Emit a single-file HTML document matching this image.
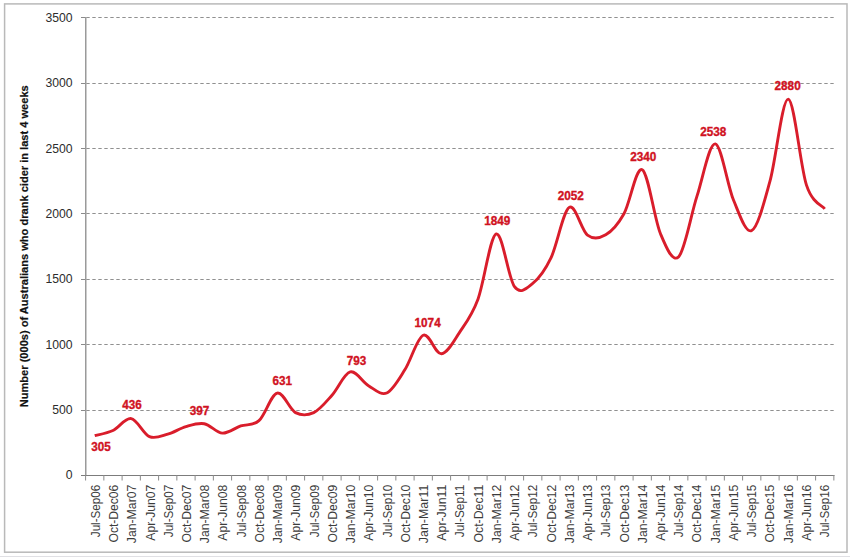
<!DOCTYPE html><html><head><meta charset="utf-8"><style>html,body{margin:0;padding:0;background:#fff;}svg{display:block;}text{font-family:"Liberation Sans", sans-serif;}</style></head><body>
<svg width="850" height="557" viewBox="0 0 850 557">
<rect x="0" y="0" width="850" height="557" fill="#fff"/>
<rect x="4.6" y="3.9" width="842.4" height="548.3" fill="none" stroke="#b9b9b9" stroke-width="1.5"/>
<line x1="0" y1="556.5" x2="850" y2="556.5" stroke="#e0e0e4" stroke-width="1.2"/>
<line x1="86" y1="410.5" x2="834" y2="410.5" stroke="#909090" stroke-width="1" stroke-dasharray="3.4,2.6" stroke-dashoffset="-0.3"/>
<line x1="86" y1="344.5" x2="834" y2="344.5" stroke="#909090" stroke-width="1" stroke-dasharray="3.4,2.6" stroke-dashoffset="-0.3"/>
<line x1="86" y1="279.5" x2="834" y2="279.5" stroke="#909090" stroke-width="1" stroke-dasharray="3.4,2.6" stroke-dashoffset="-0.3"/>
<line x1="86" y1="213.5" x2="834" y2="213.5" stroke="#909090" stroke-width="1" stroke-dasharray="3.4,2.6" stroke-dashoffset="-0.3"/>
<line x1="86" y1="148.5" x2="834" y2="148.5" stroke="#909090" stroke-width="1" stroke-dasharray="3.4,2.6" stroke-dashoffset="-0.3"/>
<line x1="86" y1="83.5" x2="834" y2="83.5" stroke="#909090" stroke-width="1" stroke-dasharray="3.4,2.6" stroke-dashoffset="-0.3"/>
<line x1="86" y1="17.5" x2="834" y2="17.5" stroke="#909090" stroke-width="1" stroke-dasharray="3.4,2.6" stroke-dashoffset="-0.3"/>
<line x1="81" y1="475.5" x2="86" y2="475.5" stroke="#8a8a8a" stroke-width="1"/>
<line x1="81" y1="410.5" x2="86" y2="410.5" stroke="#8a8a8a" stroke-width="1"/>
<line x1="81" y1="344.5" x2="86" y2="344.5" stroke="#8a8a8a" stroke-width="1"/>
<line x1="81" y1="279.5" x2="86" y2="279.5" stroke="#8a8a8a" stroke-width="1"/>
<line x1="81" y1="213.5" x2="86" y2="213.5" stroke="#8a8a8a" stroke-width="1"/>
<line x1="81" y1="148.5" x2="86" y2="148.5" stroke="#8a8a8a" stroke-width="1"/>
<line x1="81" y1="83.5" x2="86" y2="83.5" stroke="#8a8a8a" stroke-width="1"/>
<line x1="81" y1="17.5" x2="86" y2="17.5" stroke="#8a8a8a" stroke-width="1"/>
<line x1="85.75" y1="17" x2="85.75" y2="475" stroke="#9a9a9a" stroke-width="1.5"/>
<line x1="81" y1="475.5" x2="834.5" y2="475.5" stroke="#7c7c7c" stroke-width="1.1"/>
<line x1="85.60" y1="475" x2="85.60" y2="480.5" stroke="#8a8a8a" stroke-width="1"/>
<line x1="103.85" y1="475" x2="103.85" y2="480.5" stroke="#8a8a8a" stroke-width="1"/>
<line x1="122.10" y1="475" x2="122.10" y2="480.5" stroke="#8a8a8a" stroke-width="1"/>
<line x1="140.35" y1="475" x2="140.35" y2="480.5" stroke="#8a8a8a" stroke-width="1"/>
<line x1="158.60" y1="475" x2="158.60" y2="480.5" stroke="#8a8a8a" stroke-width="1"/>
<line x1="176.85" y1="475" x2="176.85" y2="480.5" stroke="#8a8a8a" stroke-width="1"/>
<line x1="195.10" y1="475" x2="195.10" y2="480.5" stroke="#8a8a8a" stroke-width="1"/>
<line x1="213.35" y1="475" x2="213.35" y2="480.5" stroke="#8a8a8a" stroke-width="1"/>
<line x1="231.60" y1="475" x2="231.60" y2="480.5" stroke="#8a8a8a" stroke-width="1"/>
<line x1="249.85" y1="475" x2="249.85" y2="480.5" stroke="#8a8a8a" stroke-width="1"/>
<line x1="268.10" y1="475" x2="268.10" y2="480.5" stroke="#8a8a8a" stroke-width="1"/>
<line x1="286.35" y1="475" x2="286.35" y2="480.5" stroke="#8a8a8a" stroke-width="1"/>
<line x1="304.60" y1="475" x2="304.60" y2="480.5" stroke="#8a8a8a" stroke-width="1"/>
<line x1="322.85" y1="475" x2="322.85" y2="480.5" stroke="#8a8a8a" stroke-width="1"/>
<line x1="341.10" y1="475" x2="341.10" y2="480.5" stroke="#8a8a8a" stroke-width="1"/>
<line x1="359.35" y1="475" x2="359.35" y2="480.5" stroke="#8a8a8a" stroke-width="1"/>
<line x1="377.60" y1="475" x2="377.60" y2="480.5" stroke="#8a8a8a" stroke-width="1"/>
<line x1="395.85" y1="475" x2="395.85" y2="480.5" stroke="#8a8a8a" stroke-width="1"/>
<line x1="414.10" y1="475" x2="414.10" y2="480.5" stroke="#8a8a8a" stroke-width="1"/>
<line x1="432.35" y1="475" x2="432.35" y2="480.5" stroke="#8a8a8a" stroke-width="1"/>
<line x1="450.60" y1="475" x2="450.60" y2="480.5" stroke="#8a8a8a" stroke-width="1"/>
<line x1="468.85" y1="475" x2="468.85" y2="480.5" stroke="#8a8a8a" stroke-width="1"/>
<line x1="487.10" y1="475" x2="487.10" y2="480.5" stroke="#8a8a8a" stroke-width="1"/>
<line x1="505.35" y1="475" x2="505.35" y2="480.5" stroke="#8a8a8a" stroke-width="1"/>
<line x1="523.60" y1="475" x2="523.60" y2="480.5" stroke="#8a8a8a" stroke-width="1"/>
<line x1="541.85" y1="475" x2="541.85" y2="480.5" stroke="#8a8a8a" stroke-width="1"/>
<line x1="560.10" y1="475" x2="560.10" y2="480.5" stroke="#8a8a8a" stroke-width="1"/>
<line x1="578.35" y1="475" x2="578.35" y2="480.5" stroke="#8a8a8a" stroke-width="1"/>
<line x1="596.60" y1="475" x2="596.60" y2="480.5" stroke="#8a8a8a" stroke-width="1"/>
<line x1="614.85" y1="475" x2="614.85" y2="480.5" stroke="#8a8a8a" stroke-width="1"/>
<line x1="633.10" y1="475" x2="633.10" y2="480.5" stroke="#8a8a8a" stroke-width="1"/>
<line x1="651.35" y1="475" x2="651.35" y2="480.5" stroke="#8a8a8a" stroke-width="1"/>
<line x1="669.60" y1="475" x2="669.60" y2="480.5" stroke="#8a8a8a" stroke-width="1"/>
<line x1="687.85" y1="475" x2="687.85" y2="480.5" stroke="#8a8a8a" stroke-width="1"/>
<line x1="706.10" y1="475" x2="706.10" y2="480.5" stroke="#8a8a8a" stroke-width="1"/>
<line x1="724.35" y1="475" x2="724.35" y2="480.5" stroke="#8a8a8a" stroke-width="1"/>
<line x1="742.60" y1="475" x2="742.60" y2="480.5" stroke="#8a8a8a" stroke-width="1"/>
<line x1="760.85" y1="475" x2="760.85" y2="480.5" stroke="#8a8a8a" stroke-width="1"/>
<line x1="779.10" y1="475" x2="779.10" y2="480.5" stroke="#8a8a8a" stroke-width="1"/>
<line x1="797.35" y1="475" x2="797.35" y2="480.5" stroke="#8a8a8a" stroke-width="1"/>
<line x1="815.60" y1="475" x2="815.60" y2="480.5" stroke="#8a8a8a" stroke-width="1"/>
<line x1="833.85" y1="475" x2="833.85" y2="480.5" stroke="#8a8a8a" stroke-width="1"/>
<text x="72.5" y="479.4" font-size="12.2" fill="#2c2c2c" text-anchor="end">0</text>
<text x="72.5" y="414.0" font-size="12.2" fill="#2c2c2c" text-anchor="end">500</text>
<text x="72.5" y="348.7" font-size="12.2" fill="#2c2c2c" text-anchor="end">1000</text>
<text x="72.5" y="283.3" font-size="12.2" fill="#2c2c2c" text-anchor="end">1500</text>
<text x="72.5" y="218.0" font-size="12.2" fill="#2c2c2c" text-anchor="end">2000</text>
<text x="72.5" y="152.6" font-size="12.2" fill="#2c2c2c" text-anchor="end">2500</text>
<text x="72.5" y="87.3" font-size="12.2" fill="#2c2c2c" text-anchor="end">3000</text>
<text x="72.5" y="21.9" font-size="12.2" fill="#2c2c2c" text-anchor="end">3500</text>
<text transform="translate(99.82,484.7) rotate(-90)" font-size="12" fill="#3c3c3c" text-anchor="end" textLength="52.5" lengthAdjust="spacingAndGlyphs">Jul-Sep06</text>
<text transform="translate(118.05,484.7) rotate(-90)" font-size="12" fill="#3c3c3c" text-anchor="end" textLength="57.8" lengthAdjust="spacingAndGlyphs">Oct-Dec06</text>
<text transform="translate(136.28,484.7) rotate(-90)" font-size="12" fill="#3c3c3c" text-anchor="end" textLength="58.5" lengthAdjust="spacingAndGlyphs">Jan-Mar07</text>
<text transform="translate(154.52,484.7) rotate(-90)" font-size="12" fill="#3c3c3c" text-anchor="end" textLength="56.0" lengthAdjust="spacingAndGlyphs">Apr-Jun07</text>
<text transform="translate(172.75,484.7) rotate(-90)" font-size="12" fill="#3c3c3c" text-anchor="end" textLength="52.5" lengthAdjust="spacingAndGlyphs">Jul-Sep07</text>
<text transform="translate(190.97,484.7) rotate(-90)" font-size="12" fill="#3c3c3c" text-anchor="end" textLength="57.8" lengthAdjust="spacingAndGlyphs">Oct-Dec07</text>
<text transform="translate(209.21,484.7) rotate(-90)" font-size="12" fill="#3c3c3c" text-anchor="end" textLength="58.5" lengthAdjust="spacingAndGlyphs">Jan-Mar08</text>
<text transform="translate(227.44,484.7) rotate(-90)" font-size="12" fill="#3c3c3c" text-anchor="end" textLength="56.0" lengthAdjust="spacingAndGlyphs">Apr-Jun08</text>
<text transform="translate(245.66,484.7) rotate(-90)" font-size="12" fill="#3c3c3c" text-anchor="end" textLength="52.5" lengthAdjust="spacingAndGlyphs">Jul-Sep08</text>
<text transform="translate(263.90,484.7) rotate(-90)" font-size="12" fill="#3c3c3c" text-anchor="end" textLength="57.8" lengthAdjust="spacingAndGlyphs">Oct-Dec08</text>
<text transform="translate(282.13,484.7) rotate(-90)" font-size="12" fill="#3c3c3c" text-anchor="end" textLength="58.5" lengthAdjust="spacingAndGlyphs">Jan-Mar09</text>
<text transform="translate(300.36,484.7) rotate(-90)" font-size="12" fill="#3c3c3c" text-anchor="end" textLength="56.0" lengthAdjust="spacingAndGlyphs">Apr-Jun09</text>
<text transform="translate(318.59,484.7) rotate(-90)" font-size="12" fill="#3c3c3c" text-anchor="end" textLength="52.5" lengthAdjust="spacingAndGlyphs">Jul-Sep09</text>
<text transform="translate(336.82,484.7) rotate(-90)" font-size="12" fill="#3c3c3c" text-anchor="end" textLength="57.8" lengthAdjust="spacingAndGlyphs">Oct-Dec09</text>
<text transform="translate(355.05,484.7) rotate(-90)" font-size="12" fill="#3c3c3c" text-anchor="end" textLength="58.5" lengthAdjust="spacingAndGlyphs">Jan-Mar10</text>
<text transform="translate(373.28,484.7) rotate(-90)" font-size="12" fill="#3c3c3c" text-anchor="end" textLength="56.0" lengthAdjust="spacingAndGlyphs">Apr-Jun10</text>
<text transform="translate(391.51,484.7) rotate(-90)" font-size="12" fill="#3c3c3c" text-anchor="end" textLength="52.5" lengthAdjust="spacingAndGlyphs">Jul-Sep10</text>
<text transform="translate(409.74,484.7) rotate(-90)" font-size="12" fill="#3c3c3c" text-anchor="end" textLength="57.8" lengthAdjust="spacingAndGlyphs">Oct-Dec10</text>
<text transform="translate(427.97,484.7) rotate(-90)" font-size="12" fill="#3c3c3c" text-anchor="end" textLength="58.5" lengthAdjust="spacingAndGlyphs">Jan-Mar11</text>
<text transform="translate(446.20,484.7) rotate(-90)" font-size="12" fill="#3c3c3c" text-anchor="end" textLength="56.0" lengthAdjust="spacingAndGlyphs">Apr-Jun11</text>
<text transform="translate(464.43,484.7) rotate(-90)" font-size="12" fill="#3c3c3c" text-anchor="end" textLength="52.5" lengthAdjust="spacingAndGlyphs">Jul-Sep11</text>
<text transform="translate(482.66,484.7) rotate(-90)" font-size="12" fill="#3c3c3c" text-anchor="end" textLength="57.8" lengthAdjust="spacingAndGlyphs">Oct-Dec11</text>
<text transform="translate(500.89,484.7) rotate(-90)" font-size="12" fill="#3c3c3c" text-anchor="end" textLength="58.5" lengthAdjust="spacingAndGlyphs">Jan-Mar12</text>
<text transform="translate(519.12,484.7) rotate(-90)" font-size="12" fill="#3c3c3c" text-anchor="end" textLength="56.0" lengthAdjust="spacingAndGlyphs">Apr-Jun12</text>
<text transform="translate(537.35,484.7) rotate(-90)" font-size="12" fill="#3c3c3c" text-anchor="end" textLength="52.5" lengthAdjust="spacingAndGlyphs">Jul-Sep12</text>
<text transform="translate(555.57,484.7) rotate(-90)" font-size="12" fill="#3c3c3c" text-anchor="end" textLength="57.8" lengthAdjust="spacingAndGlyphs">Oct-Dec12</text>
<text transform="translate(573.80,484.7) rotate(-90)" font-size="12" fill="#3c3c3c" text-anchor="end" textLength="58.5" lengthAdjust="spacingAndGlyphs">Jan-Mar13</text>
<text transform="translate(592.03,484.7) rotate(-90)" font-size="12" fill="#3c3c3c" text-anchor="end" textLength="56.0" lengthAdjust="spacingAndGlyphs">Apr-Jun13</text>
<text transform="translate(610.26,484.7) rotate(-90)" font-size="12" fill="#3c3c3c" text-anchor="end" textLength="52.5" lengthAdjust="spacingAndGlyphs">Jul-Sep13</text>
<text transform="translate(628.50,484.7) rotate(-90)" font-size="12" fill="#3c3c3c" text-anchor="end" textLength="57.8" lengthAdjust="spacingAndGlyphs">Oct-Dec13</text>
<text transform="translate(646.73,484.7) rotate(-90)" font-size="12" fill="#3c3c3c" text-anchor="end" textLength="58.5" lengthAdjust="spacingAndGlyphs">Jan-Mar14</text>
<text transform="translate(664.95,484.7) rotate(-90)" font-size="12" fill="#3c3c3c" text-anchor="end" textLength="56.0" lengthAdjust="spacingAndGlyphs">Apr-Jun14</text>
<text transform="translate(683.18,484.7) rotate(-90)" font-size="12" fill="#3c3c3c" text-anchor="end" textLength="52.5" lengthAdjust="spacingAndGlyphs">Jul-Sep14</text>
<text transform="translate(701.41,484.7) rotate(-90)" font-size="12" fill="#3c3c3c" text-anchor="end" textLength="57.8" lengthAdjust="spacingAndGlyphs">Oct-Dec14</text>
<text transform="translate(719.64,484.7) rotate(-90)" font-size="12" fill="#3c3c3c" text-anchor="end" textLength="58.5" lengthAdjust="spacingAndGlyphs">Jan-Mar15</text>
<text transform="translate(737.88,484.7) rotate(-90)" font-size="12" fill="#3c3c3c" text-anchor="end" textLength="56.0" lengthAdjust="spacingAndGlyphs">Apr-Jun15</text>
<text transform="translate(756.11,484.7) rotate(-90)" font-size="12" fill="#3c3c3c" text-anchor="end" textLength="52.5" lengthAdjust="spacingAndGlyphs">Jul-Sep15</text>
<text transform="translate(774.33,484.7) rotate(-90)" font-size="12" fill="#3c3c3c" text-anchor="end" textLength="57.8" lengthAdjust="spacingAndGlyphs">Oct-Dec15</text>
<text transform="translate(792.56,484.7) rotate(-90)" font-size="12" fill="#3c3c3c" text-anchor="end" textLength="58.5" lengthAdjust="spacingAndGlyphs">Jan-Mar16</text>
<text transform="translate(810.79,484.7) rotate(-90)" font-size="12" fill="#3c3c3c" text-anchor="end" textLength="56.0" lengthAdjust="spacingAndGlyphs">Apr-Jun16</text>
<text transform="translate(829.02,484.7) rotate(-90)" font-size="12" fill="#3c3c3c" text-anchor="end" textLength="52.5" lengthAdjust="spacingAndGlyphs">Jul-Sep16</text>
<text transform="translate(27.6,246.25) rotate(-90)" font-size="11.5" font-weight="bold" fill="#111" stroke="#111" stroke-width="0.2" text-anchor="middle" textLength="322" lengthAdjust="spacingAndGlyphs">Number (000s) of Australians who drank cider in last 4 weeks</text>
<path d="M94.72,435.73 C97.77,434.86 106.89,433.36 112.97,430.50 C119.06,427.65 125.14,417.58 131.22,418.61 C137.31,419.63 143.39,434.05 149.47,436.65 C155.56,439.24 161.64,435.84 167.72,434.16 C173.81,432.49 179.89,428.32 185.97,426.58 C192.06,424.84 198.14,422.62 204.22,423.71 C210.31,424.80 216.39,432.75 222.47,433.12 C228.56,433.49 234.64,428.00 240.72,425.93 C246.81,423.86 252.89,426.17 258.98,420.70 C265.06,415.23 271.14,394.47 277.23,393.12 C283.31,391.77 289.39,409.35 295.48,412.60 C301.56,415.84 307.64,415.49 313.73,412.60 C319.81,409.70 325.89,401.99 331.98,395.21 C338.06,388.44 344.14,373.53 350.23,371.94 C356.31,370.35 362.39,382.16 368.48,385.67 C374.56,389.18 380.64,395.67 386.73,392.99 C392.81,390.31 398.89,379.22 404.98,369.59 C411.06,359.96 417.14,337.85 423.23,335.21 C429.31,332.58 435.39,354.30 441.48,353.77 C447.56,353.25 453.64,341.18 459.73,332.08 C465.81,322.97 471.89,315.50 477.98,299.14 C484.06,282.77 490.14,235.98 496.23,233.91 C502.31,231.84 508.39,278.46 514.48,286.72 C520.56,294.97 526.64,288.24 532.73,283.45 C538.81,278.66 544.89,270.64 550.98,257.96 C557.06,245.28 563.14,211.19 569.23,207.37 C575.31,203.56 581.39,230.51 587.48,235.09 C593.56,239.66 599.64,238.38 605.73,234.82 C611.81,231.27 617.89,224.63 623.98,213.78 C630.06,202.93 636.14,166.40 642.23,169.73 C648.31,173.06 654.39,219.29 660.48,233.78 C666.56,248.27 672.64,262.93 678.73,256.65 C684.81,250.38 690.89,214.93 696.98,196.13 C703.06,177.33 709.14,143.19 715.23,143.85 C721.31,144.50 727.39,185.61 733.48,200.05 C739.56,214.50 745.64,233.65 751.73,230.51 C757.81,227.37 763.89,203.13 769.98,181.23 C776.06,159.34 782.14,98.49 788.23,99.14 C794.31,99.80 800.39,166.87 806.48,185.15 C812.56,203.43 821.68,204.87 824.73,208.81" fill="none" stroke="#d91d2b" stroke-width="2.9" stroke-linecap="butt" stroke-linejoin="round"/>
<text x="100.9" y="451.3" font-size="12.2" font-weight="bold" fill="#d0121f" stroke="#d0121f" stroke-width="0.35" text-anchor="middle" textLength="19.5" lengthAdjust="spacingAndGlyphs">305</text>
<text x="132.1" y="409.4" font-size="12.2" font-weight="bold" fill="#d0121f" stroke="#d0121f" stroke-width="0.35" text-anchor="middle" textLength="19.5" lengthAdjust="spacingAndGlyphs">436</text>
<text x="199.4" y="415.2" font-size="12.2" font-weight="bold" fill="#d0121f" stroke="#d0121f" stroke-width="0.35" text-anchor="middle" textLength="19.5" lengthAdjust="spacingAndGlyphs">397</text>
<text x="282.3" y="384.5" font-size="12.2" font-weight="bold" fill="#d0121f" stroke="#d0121f" stroke-width="0.35" text-anchor="middle" textLength="19.5" lengthAdjust="spacingAndGlyphs">631</text>
<text x="356.4" y="364.8" font-size="12.2" font-weight="bold" fill="#d0121f" stroke="#d0121f" stroke-width="0.35" text-anchor="middle" textLength="19.5" lengthAdjust="spacingAndGlyphs">793</text>
<text x="427.6" y="326.9" font-size="12.2" font-weight="bold" fill="#d0121f" stroke="#d0121f" stroke-width="0.35" text-anchor="middle" textLength="26.2" lengthAdjust="spacingAndGlyphs">1074</text>
<text x="497.3" y="225.2" font-size="12.2" font-weight="bold" fill="#d0121f" stroke="#d0121f" stroke-width="0.35" text-anchor="middle" textLength="26.2" lengthAdjust="spacingAndGlyphs">1849</text>
<text x="570.8" y="199.5" font-size="12.2" font-weight="bold" fill="#d0121f" stroke="#d0121f" stroke-width="0.35" text-anchor="middle" textLength="26.2" lengthAdjust="spacingAndGlyphs">2052</text>
<text x="643.3" y="161.29999999999998" font-size="12.2" font-weight="bold" fill="#d0121f" stroke="#d0121f" stroke-width="0.35" text-anchor="middle" textLength="26.2" lengthAdjust="spacingAndGlyphs">2340</text>
<text x="713.3" y="135.5" font-size="12.2" font-weight="bold" fill="#d0121f" stroke="#d0121f" stroke-width="0.35" text-anchor="middle" textLength="26.2" lengthAdjust="spacingAndGlyphs">2538</text>
<text x="787.6" y="89.5" font-size="12.2" font-weight="bold" fill="#d0121f" stroke="#d0121f" stroke-width="0.35" text-anchor="middle" textLength="26.2" lengthAdjust="spacingAndGlyphs">2880</text>
</svg></body></html>
